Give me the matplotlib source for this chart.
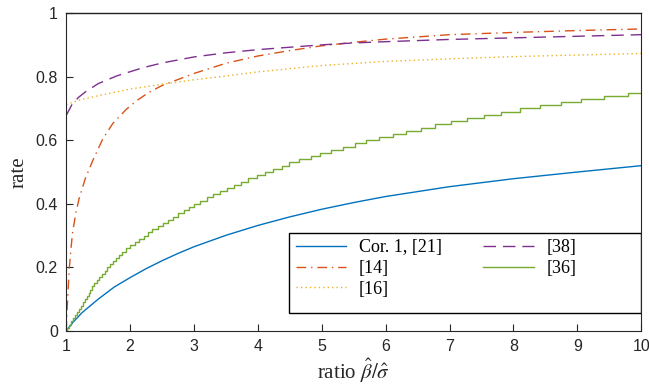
import matplotlib
matplotlib.use("Agg")
import matplotlib.pyplot as plt
from matplotlib.patches import Rectangle

# ---- data ----
cor1_x = [1.0, 1.1, 1.25, 1.5, 1.75, 2.0, 2.25, 2.5, 2.75, 3.0, 3.5, 4.0, 4.5, 5.0, 5.5,
          6.0, 7.0, 8.0, 9.0, 10.0]
cor1_y = [0.0, 0.026, 0.058, 0.10, 0.138, 0.168, 0.196, 0.221, 0.244, 0.265, 0.301, 0.332,
          0.359, 0.383, 0.404, 0.423, 0.454, 0.479, 0.50, 0.52]

ref14_x = [1.0, 1.01, 1.02, 1.035, 1.05, 1.075, 1.1, 1.15, 1.2, 1.3, 1.42, 1.57, 1.73, 1.94,
           2.1, 2.29, 2.5, 3.0, 3.5, 4.0, 4.5, 5.0, 5.5, 6.0, 7.0, 8.0, 9.0, 10.0]
ref14_y = [0.0, 0.05, 0.09, 0.15, 0.20, 0.26, 0.31, 0.37, 0.415, 0.48, 0.538, 0.603, 0.653,
           0.697, 0.724, 0.75, 0.772, 0.81, 0.842, 0.865, 0.882, 0.897, 0.908, 0.918, 0.932,
           0.939, 0.945, 0.95]

ref16_x = [1.0, 1.2, 1.5, 2.0, 2.5, 3.0, 3.5, 4.0, 5.0, 6.0, 7.0, 8.0, 9.0, 10.0]
ref16_y = [0.712, 0.726, 0.74, 0.761, 0.776, 0.79, 0.802, 0.815, 0.835, 0.848, 0.856,
           0.863, 0.868, 0.873]

ref38_x = [1.0, 1.1, 1.2, 1.3, 1.5, 1.8, 2.2, 2.5, 3.0, 3.5, 4.0, 5.0, 5.5, 6.0, 7.0, 8.0, 9.0, 10.0]
ref38_y = [0.678, 0.716, 0.736, 0.752, 0.778, 0.803, 0.828, 0.843, 0.862, 0.875, 0.885,
           0.900, 0.906, 0.910, 0.917, 0.922, 0.927, 0.932]

# [36] is a staircase: x where the rate jumps to the next level
ref36_x = [1.0, 1.02, 1.05, 1.08, 1.11, 1.14, 1.17, 1.20, 1.23, 1.26, 1.29, 1.32, 1.35, 1.38,
           1.41, 1.44, 1.48, 1.52, 1.56, 1.60, 1.64, 1.68, 1.73, 1.78, 1.83, 1.88, 1.94,
           2.00, 2.07, 2.14, 2.21, 2.28, 2.35, 2.43, 2.51, 2.59, 2.67, 2.75, 2.84, 2.92,
           3.00, 3.09, 3.20, 3.30, 3.41, 3.51, 3.62, 3.73, 3.85, 3.98, 4.11, 4.24, 4.38,
           4.49, 4.65, 4.83, 4.98, 5.15, 5.33, 5.52, 5.70, 5.90, 6.11, 6.32, 6.55, 6.77,
           7.03, 7.28, 7.54, 7.81, 8.11, 8.42, 8.75, 9.06, 9.42, 9.79, 10.0]
ref36_y = [0.00, 0.01, 0.02, 0.03, 0.04, 0.05, 0.06, 0.07, 0.08, 0.09, 0.10, 0.11, 0.12, 0.13,
           0.14, 0.15, 0.16, 0.17, 0.18, 0.19, 0.20, 0.21, 0.22, 0.23, 0.24, 0.25, 0.26,
           0.27, 0.28, 0.29, 0.30, 0.31, 0.32, 0.33, 0.34, 0.35, 0.36, 0.37, 0.38, 0.39,
           0.40, 0.41, 0.42, 0.43, 0.44, 0.45, 0.46, 0.47, 0.48, 0.49, 0.50, 0.51, 0.52,
           0.53, 0.54, 0.55, 0.56, 0.57, 0.58, 0.59, 0.60, 0.61, 0.62, 0.63, 0.64, 0.65,
           0.66, 0.67, 0.68, 0.69, 0.70, 0.71, 0.72, 0.73, 0.74, 0.75, 0.75]

x_ticks = [1, 2, 3, 4, 5, 6, 7, 8, 9, 10]
y_ticks = [0, 0.2, 0.4, 0.6, 0.8, 1]
y_tick_labels = ["0", "0.2", "0.4", "0.6", "0.8", "1"]

plt.rcParams["mathtext.fontset"] = "stix"
axis_grey = "#262626"

fig = plt.figure(figsize=(6.49, 3.84), dpi=100)
ax = fig.add_axes([0.102, 0.138, 0.886, 0.828])

ax.plot(cor1_x, cor1_y, color="#0072BD", lw=1.0, label="Cor. 1, [21]")
ax.plot(ref14_x, ref14_y, color="#D95319", lw=1.0, dashes=(7, 3.5, 1, 3.5), label="[14]")
ax.plot(ref16_x, ref16_y, color="#EDB120", lw=1.0, dashes=(1, 2.2), label="[16]")
ax.plot(ref38_x, ref38_y, color="#7E2F8E", lw=1.0, dashes=(9, 5), label="[38]")
ax.step(ref36_x, ref36_y, where="post", color="#77AC30", lw=1.0, label="[36]")

ax.set_xlim(1, 10)
ax.set_ylim(0, 1)
ax.set_xticks(x_ticks)
ax.set_yticks(y_ticks)
ax.set_yticklabels(y_tick_labels)
ax.tick_params(direction="in", length=5, width=0.8, colors=axis_grey,
               labelsize=11.5, pad=6)
for lab in ax.get_xticklabels() + ax.get_yticklabels():
    lab.set_family("Liberation Sans")
for s in ["left", "bottom", "right"]:
    ax.spines[s].set_color(axis_grey)
    ax.spines[s].set_linewidth(0.8)
ax.spines["top"].set_color("#222222")
ax.spines["top"].set_linewidth(1.0)

ax.set_xlabel(r"ratio $\hat{\beta}/\hat{\sigma}$", family="Liberation Serif",
              fontsize=15, color=axis_grey, labelpad=2)
ax.set_ylabel("rate", family="Liberation Serif", fontsize=15, color=axis_grey, labelpad=5)

# legend frame drawn separately (taller than the entries)
ax.add_patch(Rectangle((0.388, 0.057), 0.612, 0.251, transform=ax.transAxes,
                       facecolor="white", edgecolor="black", lw=1.0, zorder=3))
leg = ax.legend(ncol=2, loc="upper left", bbox_to_anchor=(0.388, 0.308),
                frameon=False, prop={"family": "Liberation Serif", "size": 13},
                handlelength=2.8, handletextpad=0.7, columnspacing=2.3,
                labelspacing=0.2, borderpad=0.35, borderaxespad=0)
leg.set_zorder(4)

fig.savefig("out.png", dpi=100)
